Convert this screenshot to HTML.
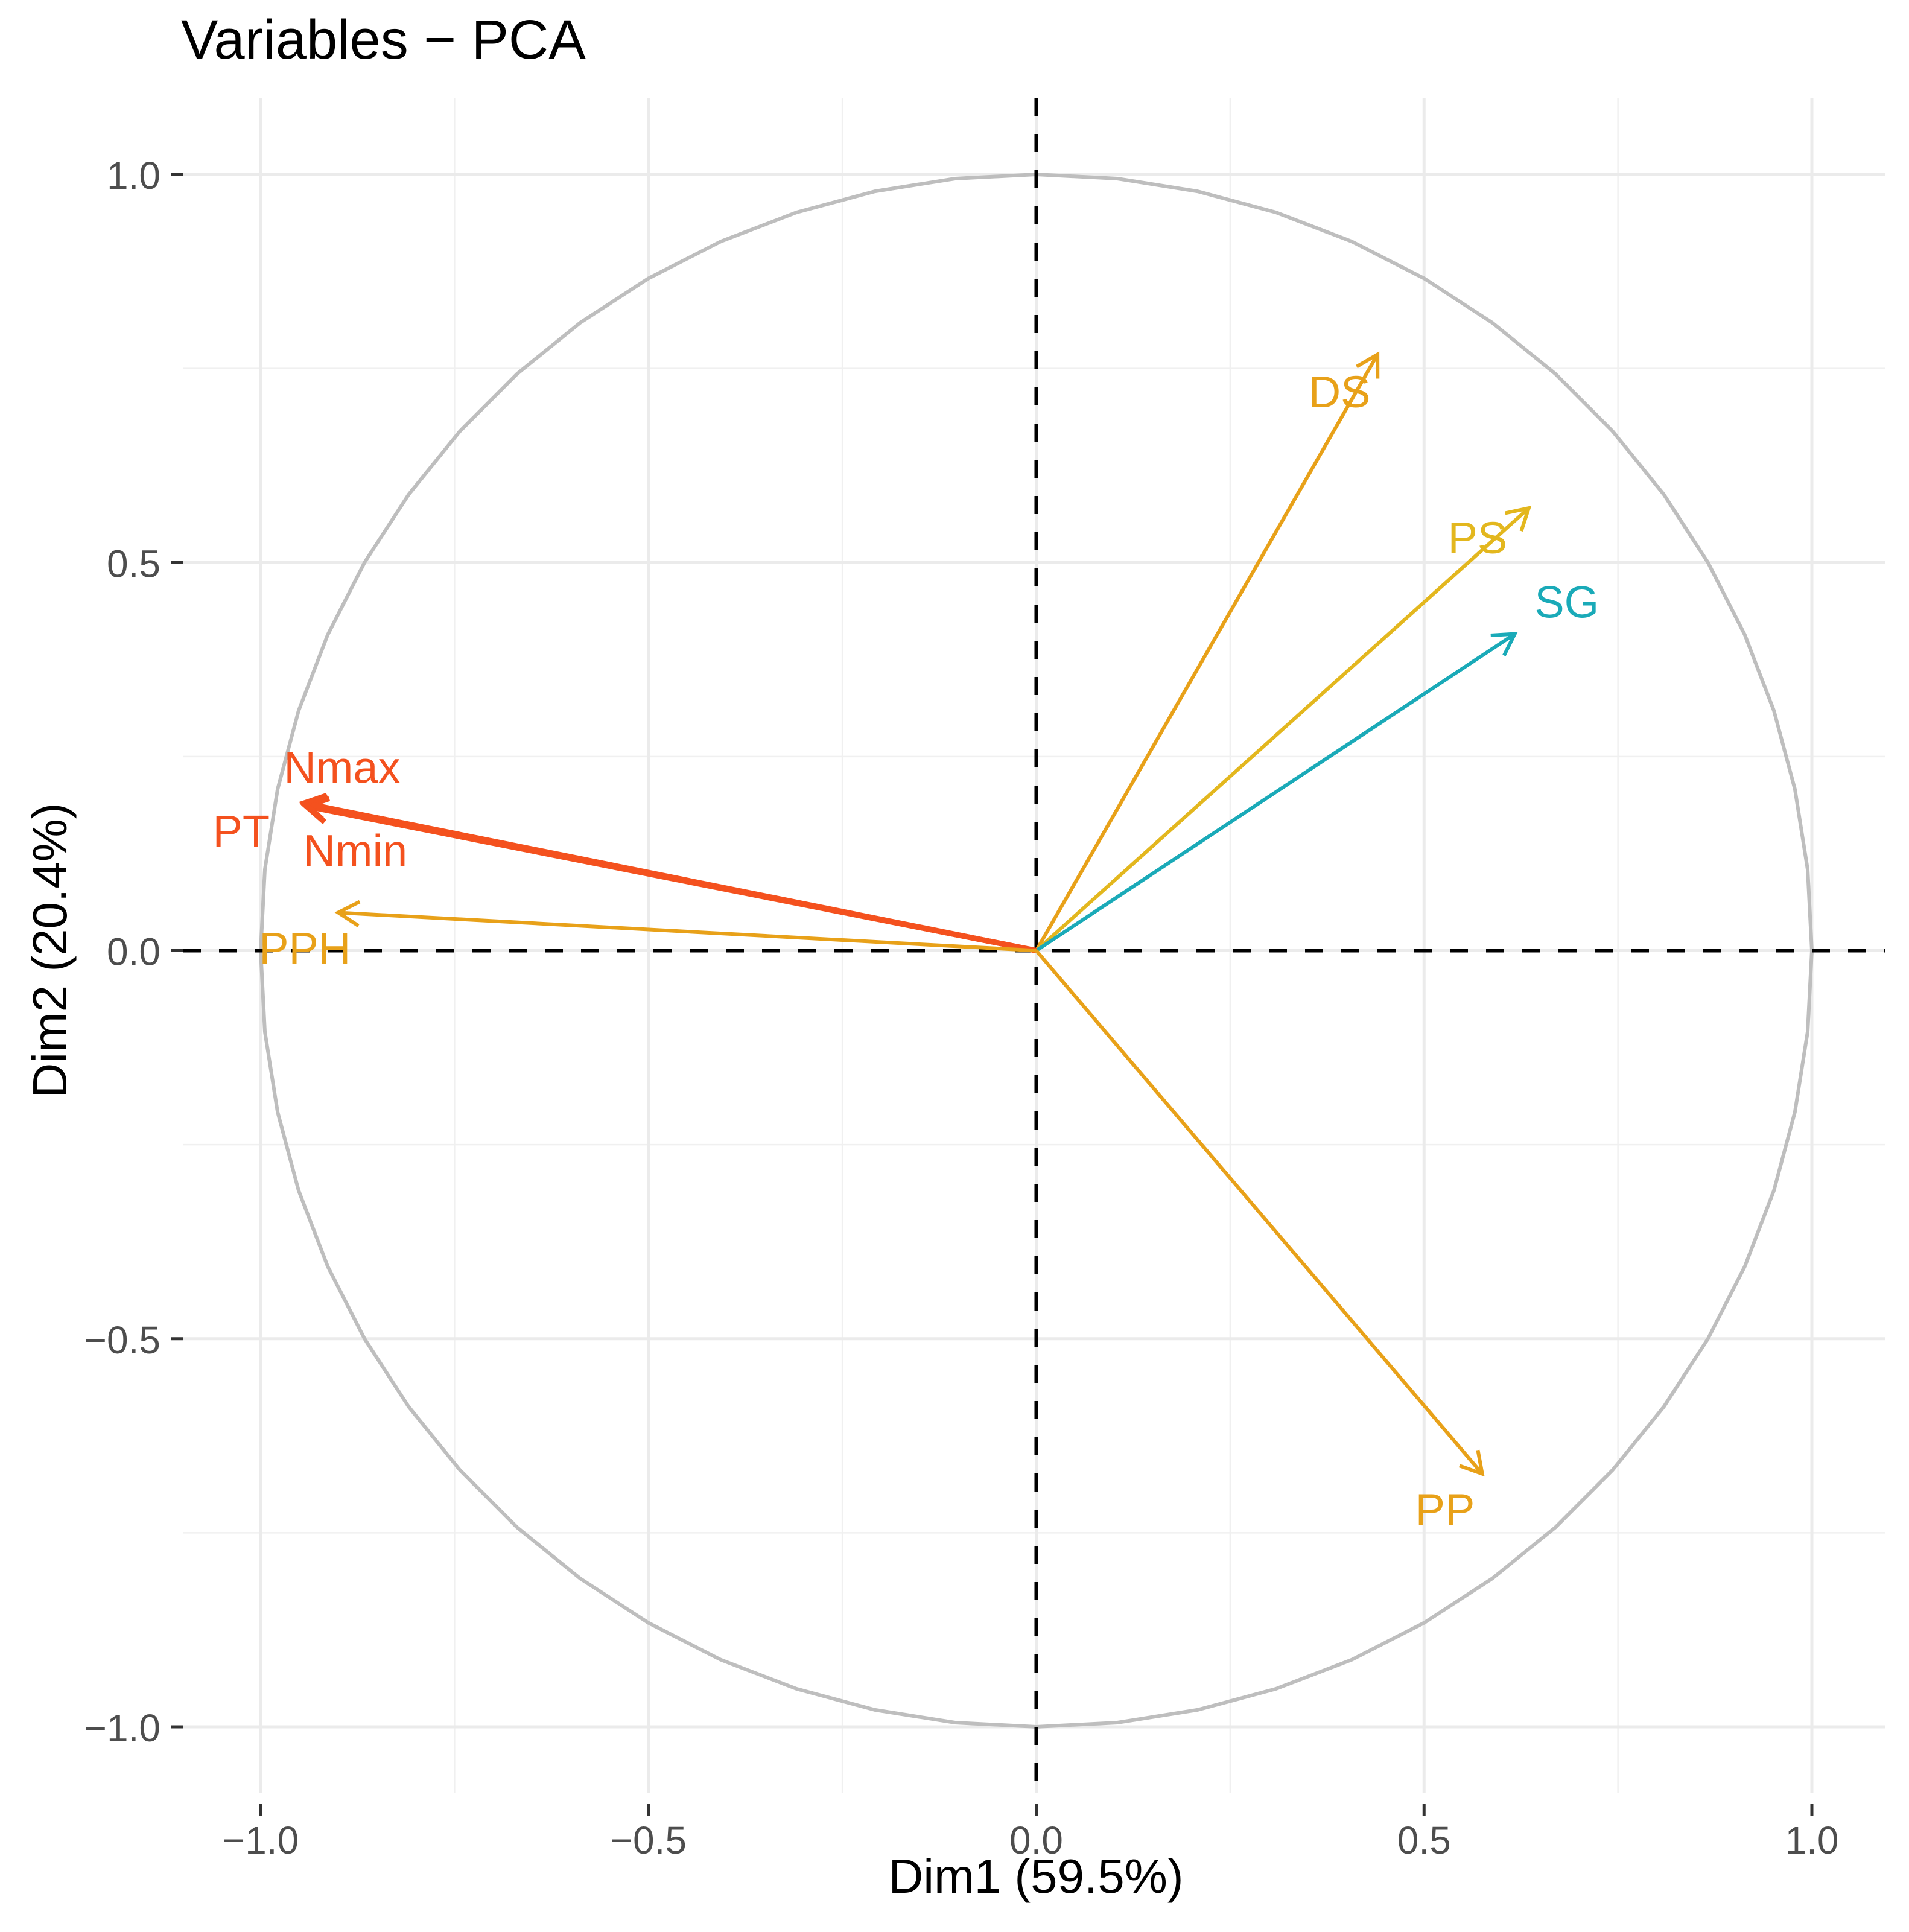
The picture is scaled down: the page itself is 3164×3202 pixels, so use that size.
<!DOCTYPE html>
<html><head><meta charset="utf-8">
<style>
html,body{margin:0;padding:0;background:#fff;}
svg{display:block;font-family:"Liberation Sans",sans-serif;}
</style></head>
<body>
<svg id="chart" width="3164" height="3202" viewBox="0 0 3164 3202" xmlns="http://www.w3.org/2000/svg">
<rect x="0" y="0" width="3164" height="3202" fill="#fff"/>
<g id="grid"></g>
<g id="circle"></g>
<g id="refs"></g>
<g id="arrows"></g>
<g id="labels"></g>
<g id="axes"></g>
<text x="300" y="97" font-size="92" fill="#000">Variables − PCA</text>
<text x="1717" y="3137" font-size="80" fill="#000" text-anchor="middle">Dim1 (59.5%)</text>
<text transform="translate(110,1575) rotate(-90)" font-size="80" fill="#000" text-anchor="middle">Dim2 (20.4%)</text>
</svg>
<script>
const varNames = ["DS","PS","SG","Nmax","Nmin","PT","PPH","PP"];
const dim1 = [0.440, 0.635, 0.617, -0.943, -0.941, -0.944, -0.900, 0.575];
const dim2 = [0.768, 0.570, 0.408, 0.188, 0.186, 0.190, 0.049, -0.674];
const labelX = [0.391, 0.569, 0.684, -0.895, -0.878, -1.025, -0.943, 0.527];
const labelY = [0.700, 0.512, 0.429, 0.216, 0.109, 0.134, -0.017, -0.740];
const varColors = ["#E8A119","#E3B71E","#1AAAB8","#F4511E","#F4511E","#F4511E","#E8A119","#E8A119"];
const majorTicks = [-1.0, -0.5, 0.0, 0.5, 1.0];
const minorTicks = [-0.75, -0.25, 0.25, 0.75];
const tickLabels = ["−1.0","−0.5","0.0","0.5","1.0"];

const NS = "http://www.w3.org/2000/svg";
const X0 = 1717.5, UX = 1285.5, Y0 = 1575.5, UY = 1286.5;
const px = v => X0 + v * UX;
const py = v => Y0 - v * UY;
const PL = 303, PR = 3125, PT_ = 162, PB = 2972;
function mk(tag, attrs, parent) {
  const e = document.createElementNS(NS, tag);
  for (const k in attrs) e.setAttribute(k, attrs[k]);
  parent.appendChild(e);
  return e;
}
const grid = document.getElementById("grid");
minorTicks.forEach(t => {
  let l = mk("line", {x1: px(t), x2: px(t), y1: PT_, y2: PB, stroke: "#F0F0F0", "stroke-width": 2.5}, grid);
  
  
  l = mk("line", {x1: PL, x2: PR, y1: py(t), y2: py(t), stroke: "#F0F0F0", "stroke-width": 2.5}, grid);
  
  
});
majorTicks.forEach(t => {
  let l = mk("line", {x1: px(t), x2: px(t), y1: PT_, y2: PB, stroke: "#EBEBEB", "stroke-width": 5}, grid);
  
  
  l = mk("line", {x1: PL, x2: PR, y1: py(t), y2: py(t), stroke: "#EBEBEB", "stroke-width": 5}, grid);
  
  
});
const circ = document.getElementById("circle");
let pts = [];
for (let i = 0; i <= 60; i++) {
  const a = i / 60 * 2 * Math.PI;
  pts.push(px(Math.cos(a)).toFixed(1) + "," + py(Math.sin(a)).toFixed(1));
}
const cp = mk("polyline", {points: pts.join(" "), fill: "none", stroke: "#BEBEBE", "stroke-width": 6}, circ);


const refs = document.getElementById("refs");
let r1 = mk("line", {x1: px(0), x2: px(0), y1: PT_, y2: PB, stroke: "#000", "stroke-width": 6, "stroke-dasharray": "30,30"}, refs);


let r2 = mk("line", {x1: PL, x2: PR, y1: py(0), y2: py(0), stroke: "#000", "stroke-width": 6, "stroke-dasharray": "30,30"}, refs);


const arrows = document.getElementById("arrows");
const labels = document.getElementById("labels");
varNames.forEach((n, i) => {
  const g = mk("g", {}, arrows);
  
  
  const x2 = px(dim1[i]), y2 = py(dim2[i]);
  const x1 = px(0), y1 = py(0);
  const sw = (n === "Nmax" || n === "Nmin" || n === "PT") ? 9 : 6;
  mk("line", {x1: x1, y1: y1, x2: x2, y2: y2, stroke: varColors[i], "stroke-width": sw}, g);
  const ang = Math.atan2(y2 - y1, x2 - x1);
  const L = 40, A = Math.PI / 6;
  const hp = [
    [x2 - L * Math.cos(ang - A), y2 - L * Math.sin(ang - A)],
    [x2, y2],
    [x2 - L * Math.cos(ang + A), y2 - L * Math.sin(ang + A)]
  ];
  mk("polyline", {points: hp.map(p => p.join(",")).join(" "), fill: "none", stroke: varColors[i], "stroke-width": sw, "stroke-linejoin": "miter"}, g);
  const t = mk("text", {x: px(labelX[i]), y: py(labelY[i]), "font-size": 74, fill: varColors[i], "text-anchor": "middle"}, labels);
  t.textContent = n;
  
  
});
const axes = document.getElementById("axes");
majorTicks.forEach((t, i) => {
  let tk = mk("line", {x1: px(t), x2: px(t), y1: 2990, y2: 3010, stroke: "#333", "stroke-width": 5}, axes);
  
  
  let tl = mk("text", {x: px(t), y: 3072, "font-size": 64, fill: "#4D4D4D", "text-anchor": "middle"}, axes);
  tl.textContent = tickLabels[i];
  
  
  tk = mk("line", {x1: 283, x2: 303, y1: py(t), y2: py(t), stroke: "#333", "stroke-width": 5}, axes);
  
  
  tl = mk("text", {x: 266, y: py(t) + 24, "font-size": 64, fill: "#4D4D4D", "text-anchor": "end"}, axes);
  tl.textContent = tickLabels[i];
  
  
});
</script>
</body></html>
